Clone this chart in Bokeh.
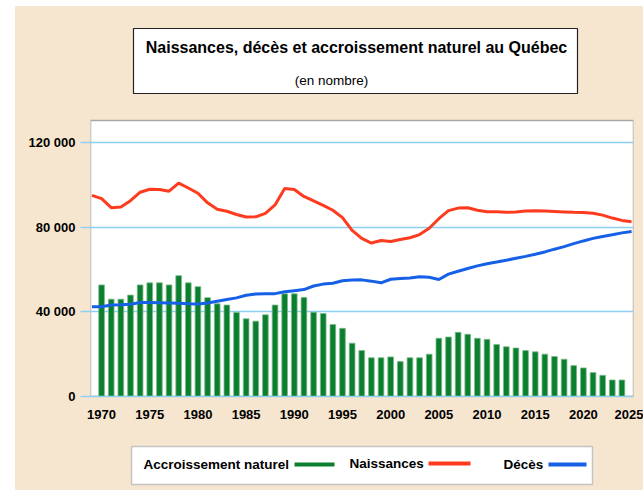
from bokeh.plotting import figure
from bokeh.layouts import column
from bokeh.models import Range1d, FixedTicker
from bokeh.core.properties import value
from bokeh.embed import file_html
from bokeh.resources import INLINE

# ---------------- data ----------------
bar_years = list(range(1970, 2025))
accroissement = [
    52700, 46000, 46000, 47900, 52700, 53700, 53700, 52700, 57100, 53700,
    51900, 46700, 43800, 43200, 39700, 36700, 35600, 38600, 43200, 48500,
    48500, 46800, 39800, 39200, 34000, 32200, 25200, 21700, 18300, 18300,
    18700, 16500, 18300, 18300, 20000, 27500, 28100, 30300, 29400, 27500,
    27000, 24600, 23500, 22900, 21700, 21100, 20000, 18900, 17600, 14600,
    13500, 11300, 10000, 7800, 7800,
]
line_years = list(range(1969, 2026))
naissances = [
    95000, 93500, 89200, 89500, 92500, 96500, 97900, 97800, 97000, 100800,
    98500, 96000, 91500, 88500, 87500, 86000, 84800, 84900, 86500, 90500,
    98300, 97800, 94500, 92400, 90300, 88000, 84500, 78500, 74700, 72500,
    73700, 73200, 74200, 75000, 76500, 79500, 84000, 87800, 89000, 89200,
    88000, 87300, 87300, 87000, 87200, 87600, 87700, 87600, 87400, 87200,
    87000, 86900, 86600, 85700, 84300, 83200, 82600,
]
deces = [
    42400, 42400, 43200, 43300, 43600, 44400, 44400, 44300, 44200, 44000,
    43800, 43700, 44200, 45000, 45800, 46600, 47800, 48400, 48500, 48600,
    49500, 50000, 50500, 52200, 53100, 53500, 54700, 55000, 55100, 54500,
    53700, 55400, 55800, 56000, 56600, 56300, 55300, 57800, 59200, 60500,
    61700, 62700, 63500, 64400, 65300, 66200, 67200, 68300, 69600, 70800,
    72200, 73500, 74700, 75600, 76400, 77300, 78000,
]
y_ticks = [0, 40000, 80000, 120000]
y_tick_labels = ["0", "40 000", "80 000", "120 000"]
x_ticks = [1970, 1975, 1980, 1985, 1990, 1995, 2000, 2005, 2010, 2015, 2020, 2025]
y_plot_top = 130400

title_text = "Naissances, décès et accroissement naturel au Québec"
subtitle_text = "(en nombre)"
legend_labels = ["Accroissement naturel", "Naissances", "Décès"]

# ---------------- style ----------------
PAGE_W, PAGE_H = 643, 490
ML, MT = 15, 6            # white page strip left / top of the original
W = PAGE_W - ML
BG = "#F7E6CF"
GREEN = "#0B7F2F"
RED = "#FF3B1F"
BLUE = "#1560E6"
GRID = "#8DCFF2"
FONT = "Liberation Sans"
FL, FR = 90, 633          # frame left / right (page px)
FT, FB = 20, 396          # frame top / bottom (page px)
SPLIT = 432               # page y where the legend strip starts
MH = SPLIT - MT

# ---------------- main chart (title box drawn inside an extended frame) -------
p = figure(width=W, height=MH, x_range=Range1d(1968.85, 2025.2),
           y_range=Range1d(0, 120000 * (FB - FT) / 254.0),
           toolbar_location=None, output_backend="svg",
           min_border_left=FL - ML, min_border_right=PAGE_W - FR,
           min_border_top=FT - MT, min_border_bottom=SPLIT - FB)
p.extra_x_ranges = {"px": Range1d(FL, FR)}
p.extra_y_ranges = {"px": Range1d(FB, FT)}
p.background_fill_color = BG
p.border_fill_color = BG
p.outline_line_color = None

# white plotting area with grey frame
p.quad(left=[1968.85], right=[2025.2], bottom=[0], top=[y_plot_top],
       fill_color="white", line_color="#A8A8A8", line_width=1.5, level="image")

p.vbar(x=bar_years, top=accroissement, width=0.59, fill_color=GREEN,
       line_color="#7DBB8A", line_width=0.8)
p.line(line_years, naissances, line_color=RED, line_width=3)
p.line(line_years, deces, line_color=BLUE, line_width=3)

# title box
p.quad(left=[133], right=[577], top=[28], bottom=[93], x_range_name="px",
       y_range_name="px", fill_color="white", line_color="#222222", line_width=1.2)
p.text(x=[356], y=[47], text=[title_text], x_range_name="px", y_range_name="px",
       text_font=value(FONT), text_font_style="bold", text_font_size="16px",
       text_align="center", text_baseline="middle", text_color="black")
p.text(x=[331], y=[80], text=[subtitle_text], x_range_name="px", y_range_name="px",
       text_font=value(FONT), text_font_size="13.5px",
       text_align="center", text_baseline="middle", text_color="black")

p.xgrid.visible = False
p.ygrid.ticker = FixedTicker(ticks=y_ticks)
p.ygrid.grid_line_color = GRID
p.ygrid.grid_line_width = 1.5
p.ygrid.level = "underlay"

p.yaxis.ticker = FixedTicker(ticks=y_ticks)
p.yaxis.major_label_overrides = dict(zip(y_ticks, y_tick_labels))
p.yaxis.axis_line_color = None
p.yaxis.major_tick_line_color = GRID
p.yaxis.major_tick_line_width = 1.5
p.yaxis.major_tick_out = 10
p.yaxis.major_tick_in = 0
p.yaxis.minor_tick_line_color = None
p.yaxis.major_label_standoff = 5
p.yaxis.major_label_text_font = FONT
p.yaxis.major_label_text_font_style = "bold"
p.yaxis.major_label_text_font_size = "13px"
p.yaxis.major_label_text_color = "black"

p.xaxis.ticker = FixedTicker(ticks=x_ticks)
p.xaxis.axis_line_color = GRID
p.xaxis.axis_line_width = 1.5
p.xaxis.major_tick_line_color = None
p.xaxis.minor_tick_line_color = None
p.xaxis.major_label_standoff = 7
p.xaxis.major_label_text_font = FONT
p.xaxis.major_label_text_font_style = "bold"
p.xaxis.major_label_text_font_size = "13px"
p.xaxis.major_label_text_color = "black"

# ---------------- legend strip ----------------
LH = PAGE_H - SPLIT
pl = figure(width=W, height=LH, x_range=Range1d(FL, FR), y_range=Range1d(PAGE_H, SPLIT),
            toolbar_location=None, output_backend="svg",
            min_border_left=FL - ML, min_border_right=PAGE_W - FR,
            min_border_top=0, min_border_bottom=0,
            x_axis_type=None, y_axis_type=None)
pl.outline_line_color = None
pl.background_fill_color = BG
pl.border_fill_color = BG
pl.xgrid.visible = False
pl.ygrid.visible = False
pl.quad(left=[131], right=[592], top=[446], bottom=[484],
        fill_color="white", line_color="#C4C4C4", line_width=1.5)
pl.text(x=[143, 349, 503], y=[464, 463, 464], text=legend_labels,
        text_font=value(FONT), text_font_style="bold", text_font_size="13.5px",
        text_align="left", text_baseline="middle", text_color="black")
pl.segment(x0=[294, 428, 548], y0=[464, 463, 464], x1=[334, 470, 586],
           y1=[464, 463, 464], line_color=[GREEN, RED, BLUE], line_width=4)

layout = column(p, pl, spacing=0)
layout.margin = (MT, 0, 0, ML)
layout.styles = {"background-color": BG}
open("out.html", "w").write(file_html(layout, INLINE))
